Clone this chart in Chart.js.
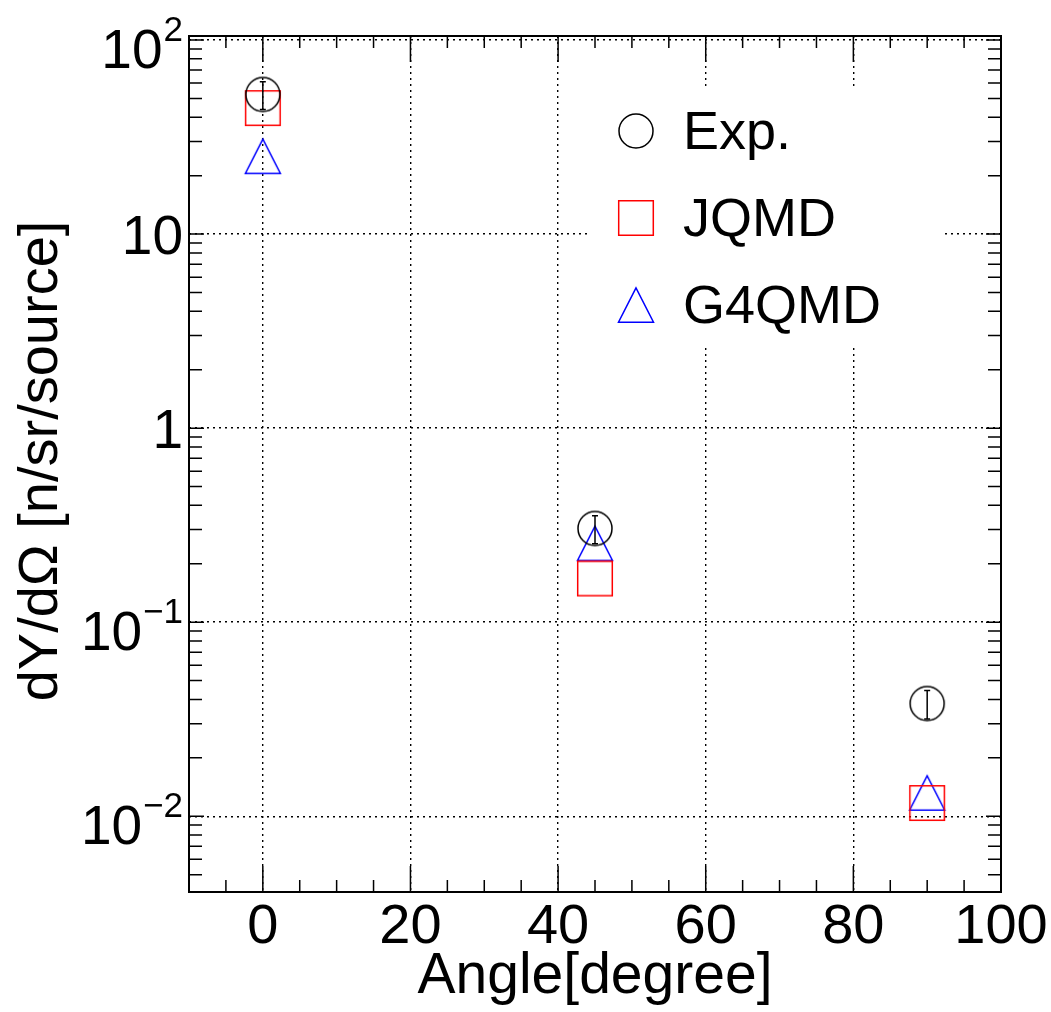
<!DOCTYPE html>
<html>
<head>
<meta charset="utf-8">
<script src="https://cdn.jsdelivr.net/npm/chart.js@4.4.0/dist/chart.umd.min.js"></script>
<style>
html,body{margin:0;padding:0;background:#fff;}
#wrap{width:1051px;height:1012px;}
canvas{display:block;}
</style>
</head>
<body>
<div id="wrap"><canvas id="c" width="1051" height="1012"></canvas></div>
<script>
// ---- data ----
const angles = [0, 45, 90];
const expValues = [52.4, 0.304, 0.0381];
const expErrors = [8.6, 0.05, 0.0064];
const jqmdValues = [44.6, 0.168, 0.0117];
const g4qmdValues = [25.2, 0.255, 0.0132];
const seriesLabels = ['Exp.', 'JQMD', 'G4QMD'];
const xTickValues = [0, 20, 40, 60, 80, 100];
const xTickLabels = ['0', '20', '40', '60', '80', '100'];
const yTickValues = [0.01, 0.1, 1, 10, 100];
const yTickBase = ['10', '10', '1', '10', '10'];
const yTickExp = ['\u22122', '\u22121', '', '', '2'];
const xTitle = 'Angle[degree]';
const yTitle = 'dY/d\u03A9 [n/sr/source]';
const xRange = [-10, 100];
const yRange = [0.00407, 104.9];

const FONT = "'Liberation Sans', Arial, Helvetica, sans-serif";

function makeMarker(kind, color) {
  const s = 40, m = s / 2;
  const c = document.createElement('canvas');
  c.width = s; c.height = s;
  const g = c.getContext('2d');
  g.strokeStyle = color; g.lineWidth = 1.5;
  g.beginPath();
  if (kind === 'circle') g.arc(m, m, 17, 0, Math.PI * 2);
  else if (kind === 'square') g.rect(m - 17.3, m - 17.3, 34.6, 34.6);
  else { g.moveTo(m, m - 17.2); g.lineTo(m - 17.5, m + 17.2); g.lineTo(m + 17.5, m + 17.2); g.closePath(); }
  g.stroke();
  return c;
}
const markers = [makeMarker('circle', '#000000'), makeMarker('square', '#ff0000'), makeMarker('triangle', '#0000ff')];

function pts(vals) { return angles.map((a, i) => ({ x: a, y: vals[i] })); }

const decorPlugin = {
  id: 'rootDecor',
  beforeDatasetsDraw(chart) {
    const ctx = chart.ctx;
    ctx.save();
    ctx.fillStyle = '#ffffff';
    ctx.fillRect(590, 89, 355, 259);
    ctx.restore();
  },
  afterDatasetsDraw(chart) {
    const ctx = chart.ctx;
    const xs = chart.scales.x, ys = chart.scales.y;
    const a = chart.chartArea;
    ctx.save();
    // error bars
    ctx.strokeStyle = '#000'; ctx.lineWidth = 1.5;
    angles.forEach((ang, i) => {
      const px = xs.getPixelForValue(ang);
      const yt = ys.getPixelForValue(expValues[i] + expErrors[i]);
      const yb = ys.getPixelForValue(expValues[i] - expErrors[i]);
      ctx.beginPath();
      ctx.moveTo(px, yt); ctx.lineTo(px, yb);
      ctx.moveTo(px - 3, yt); ctx.lineTo(px + 3, yt);
      ctx.moveTo(px - 3, yb); ctx.lineTo(px + 3, yb);
      ctx.stroke();
    });
    // ticks
    ctx.lineWidth = 1.5;
    ctx.beginPath();
    for (let v = xRange[0]; v <= xRange[1] + 1e-9; v += 5) {
      const px = xs.getPixelForValue(v);
      if (px <= a.left + 1 || px >= a.right - 1) continue;
      const len = xTickValues.includes(v) ? 26 : 12;
      ctx.moveTo(px, a.bottom); ctx.lineTo(px, a.bottom - len);
      ctx.moveTo(px, a.top); ctx.lineTo(px, a.top + len);
    }
    for (let e = -3; e <= 2; e++) {
      for (let m = 1; m <= 9; m++) {
        const v = m * Math.pow(10, e);
        if (v < yRange[0] || v > yRange[1]) continue;
        const py = ys.getPixelForValue(v);
        const len = m === 1 ? 15 : 13;
        ctx.moveTo(a.left, py); ctx.lineTo(a.left + len, py);
        ctx.moveTo(a.right, py); ctx.lineTo(a.right - len, py);
      }
    }
    ctx.stroke();
    // frame
    ctx.lineWidth = 2;
    ctx.strokeRect(a.left, a.top, a.right - a.left, a.bottom - a.top);
    // x tick labels
    ctx.fillStyle = '#000';
    ctx.font = '56px ' + FONT;
    ctx.textAlign = 'center'; ctx.textBaseline = 'alphabetic';
    xTickValues.forEach((v, i) => {
      ctx.fillText(xTickLabels[i], xs.getPixelForValue(v), 943);
    });
    // y tick labels
    const labRight = a.left - 6;
    yTickValues.forEach((v, i) => {
      const py = ys.getPixelForValue(v);
      ctx.textAlign = 'right';
      if (yTickExp[i] === '') {
        ctx.font = '55px ' + FONT;
        ctx.fillText(yTickBase[i], labRight, py + 19.7);
      } else {
        ctx.font = '35px ' + FONT;
        const w = ctx.measureText(yTickExp[i]).width;
        ctx.fillText(yTickExp[i], labRight, py + 1);
        ctx.font = '55px ' + FONT;
        ctx.fillText(yTickBase[i], labRight - w - 1, py + 28);
      }
    });
    // axis titles
    ctx.font = '57px ' + FONT;
    ctx.textAlign = 'center';
    ctx.fillText(xTitle, (a.left + a.right) / 2, 992.7);
    ctx.save();
    ctx.translate(57, 461);
    ctx.rotate(-Math.PI / 2);
    ctx.font = '56px ' + FONT;
    ctx.fillText(yTitle, 0, 0);
    ctx.restore();
    // legend
    const rows = [131, 218, 305];
    ctx.font = '54px ' + FONT;
    ctx.textAlign = 'left';
    seriesLabels.forEach((lab, i) => {
      const mk = markers[i];
      ctx.drawImage(mk, 636 - mk.width / 2, rows[i] - mk.height / 2);
      ctx.fillText(lab, 683, rows[i] + 17.5);
    });
    ctx.restore();
  }
};

new Chart(document.getElementById('c'), {
  type: 'scatter',
  data: {
    datasets: [
      { label: seriesLabels[0], data: pts(expValues), pointStyle: markers[0], pointRadius: 17, showLine: false },
      { label: seriesLabels[1], data: pts(jqmdValues), pointStyle: markers[1], pointRadius: 17, showLine: false },
      { label: seriesLabels[2], data: pts(g4qmdValues), pointStyle: markers[2], pointRadius: 17, showLine: false }
    ]
  },
  options: {
    responsive: false,
    animation: false,
    devicePixelRatio: 1,
    layout: { padding: { left: 189, top: 36, right: 50, bottom: 120 } },
    plugins: { legend: { display: false }, tooltip: { enabled: false } },
    scales: {
      x: {
        type: 'linear', min: xRange[0], max: xRange[1],
        afterBuildTicks: s => { s.ticks = xTickValues.map(v => ({ value: v })); },
        ticks: { display: false },
        grid: { color: '#000', lineWidth: 1.4, drawTicks: false },
        border: { display: false, dash: [2, 4] }
      },
      y: {
        type: 'logarithmic', min: yRange[0], max: yRange[1],
        afterBuildTicks: s => { s.ticks = yTickValues.map(v => ({ value: v })); },
        ticks: { display: false },
        grid: { color: '#000', lineWidth: 1.4, drawTicks: false },
        border: { display: false, dash: [2, 4] }
      }
    }
  },
  plugins: [decorPlugin]
});
</script>
</body>
</html>
